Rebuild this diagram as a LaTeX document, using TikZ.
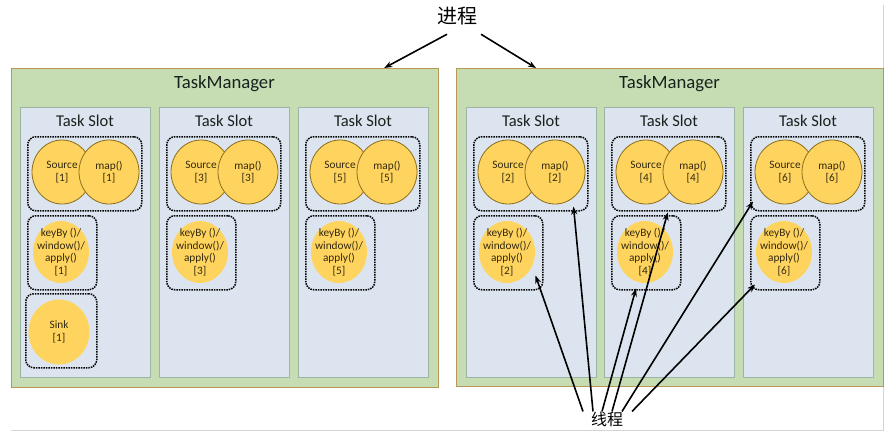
\documentclass[tikz,border=0pt]{standalone}
\usepackage{fontspec}
\setmainfont{Carlito}
\newfontfamily\cjkfont{Noto Sans CJK SC}
\usetikzlibrary{shapes.geometric,arrows.meta}
\definecolor{tmfill}{HTML}{C6DDB4}
\definecolor{tmline}{HTML}{B8985A}
\definecolor{slotfill}{HTML}{DCE5EF}
\definecolor{slotline}{HTML}{9DB3A6}
\definecolor{opfill}{HTML}{FFD45E}
\definecolor{opline}{HTML}{8C6D1F}
\definecolor{optxt}{HTML}{33290F}
\definecolor{labtxt}{HTML}{18221C}
\definecolor{framegray}{HTML}{D4D4D4}
\begin{document}
\begin{tikzpicture}[x=1pt,y=-1pt,
  tmbox/.style={draw=tmline,fill=tmfill,line width=1.2pt,inner sep=0pt,anchor=north west,
    minimum width=427pt,minimum height=319pt},
  tmlabel/.style={text=labtxt,font=\fontsize{18.7}{20}\selectfont,inner sep=0pt},
  slotbox/.style={draw=slotline,fill=slotfill,line width=1.2pt,inner sep=0pt,anchor=north west,
    minimum width=130pt,minimum height=270pt},
  slotlabel/.style={text=labtxt,font=\fontsize{16.5}{18}\selectfont,inner sep=0pt},
  dotbox/.style={draw=black,densely dotted,line width=1.5pt,rounded corners=8pt,inner sep=0pt,anchor=north west},
  opcirc/.style={ellipse,draw=opline,fill=opfill,line width=0.8pt,inner sep=0pt,
    minimum width=60pt,minimum height=64pt},
  softcirc/.style={ellipse,fill=opfill,inner sep=0pt},
  optext/.style={text=optxt,align=center,inner sep=0pt,font=\fontsize{11.3}{12.5}\selectfont},
  conn/.style={draw=black,line width=1.6pt,-{Stealth[length=8pt,width=6pt]}},
  cjklabel/.style={text=black,inner sep=1pt}]
\useasboundingbox (0,0) rectangle (893,437);
\fill[white] (0,0) rectangle (893,437);

% page frame lines
\draw[framegray,line width=1pt] (11,430) -- (883,430) -- (883,5);

% the two TaskManager processes
\node[tmbox] (tmL) at (11,68) {};
\node[tmlabel] (tmLt) at (224.5,84) {TaskManager};
\node[tmbox,minimum height=318pt] (tmR) at (456,68) {};
\node[tmlabel] (tmRt) at (669.5,84) {TaskManager};

% task slots with their operator chains (slot name / left edge / subtask index)
\foreach \i/\x/\n in {1/20/1,2/159/3,3/298/5,4/466/2,5/604/4,6/743/6}{
  \node[slotbox] (slot\i) at (\x,107) {};
  \node[slotlabel] (slot\i t) at (\x+65,121) {Task Slot};
  \node[dotbox,minimum width=114pt,minimum height=74pt] (g\i) at (\x+7,136) {};
  \node[opcirc] (src\i) at (\x+42,172) {};
  \node[optext] (src\i t) at (src\i) {Source\\{[\n]}};
  \node[opcirc] (map\i) at (\x+89,172) {};
  \node[optext] (map\i t) at (map\i) {map()\\{[\n]}};
  \node[dotbox,minimum width=69pt,minimum height=74pt] (kb\i) at (\x+7,215) {};
  \node[softcirc,minimum width=56pt,minimum height=62pt] (key\i) at (\x+41,252) {};
  \node[optext] (key\i t) at (key\i) {keyBy ()/\\window()/\\apply()\\{[\n]}};
}

% sink in the first slot
\node[dotbox,minimum width=71pt,minimum height=74pt] (sk1) at (25,293) {};
\node[softcirc,minimum width=61pt,minimum height=65pt] (sink1) at (59,332) {};
\node[optext] (sink1t) at (sink1) {Sink\\{[1]}};

% process label
\node[cjklabel,font=\cjkfont\fontsize{20}{22}\selectfont] (proc) at (457,16) {进程};
\draw[conn] ([xshift=-10pt,yshift=-8pt]proc.south) -- ([xshift=-55pt]tmL.north east);
\draw[conn] ([xshift=24pt,yshift=-8pt]proc.south) -- ([xshift=80pt]tmR.north west);

% thread label
\node[cjklabel,font=\cjkfont\fontsize{16}{18}\selectfont] (thr) at (607,419) {线程};
\draw[conn] ([xshift=-24pt,yshift=-1pt]thr.north) -- ([xshift=-8pt,yshift=15pt]kb4.south east);
\draw[conn] ([xshift=-14pt,yshift=-1pt]thr.north) -- ([xshift=-15pt,yshift=5pt]g4.south east);
\draw[conn] ([xshift=-5pt,yshift=-1pt]thr.north) -- ([xshift=25pt,yshift=2pt]kb5.south west);
\draw[conn] ([xshift=5pt,yshift=-1pt]thr.north) -- ([xshift=-1pt,yshift=-1pt]g5.south);
\draw[conn] ([xshift=15pt,yshift=-1pt]thr.north) -- ([xshift=3pt,yshift=10pt]g6.south west);
\draw[conn] ([xshift=25pt,yshift=-1pt]thr.north) -- ([xshift=5pt,yshift=6pt]kb6.south west);
\end{tikzpicture}
\end{document}
